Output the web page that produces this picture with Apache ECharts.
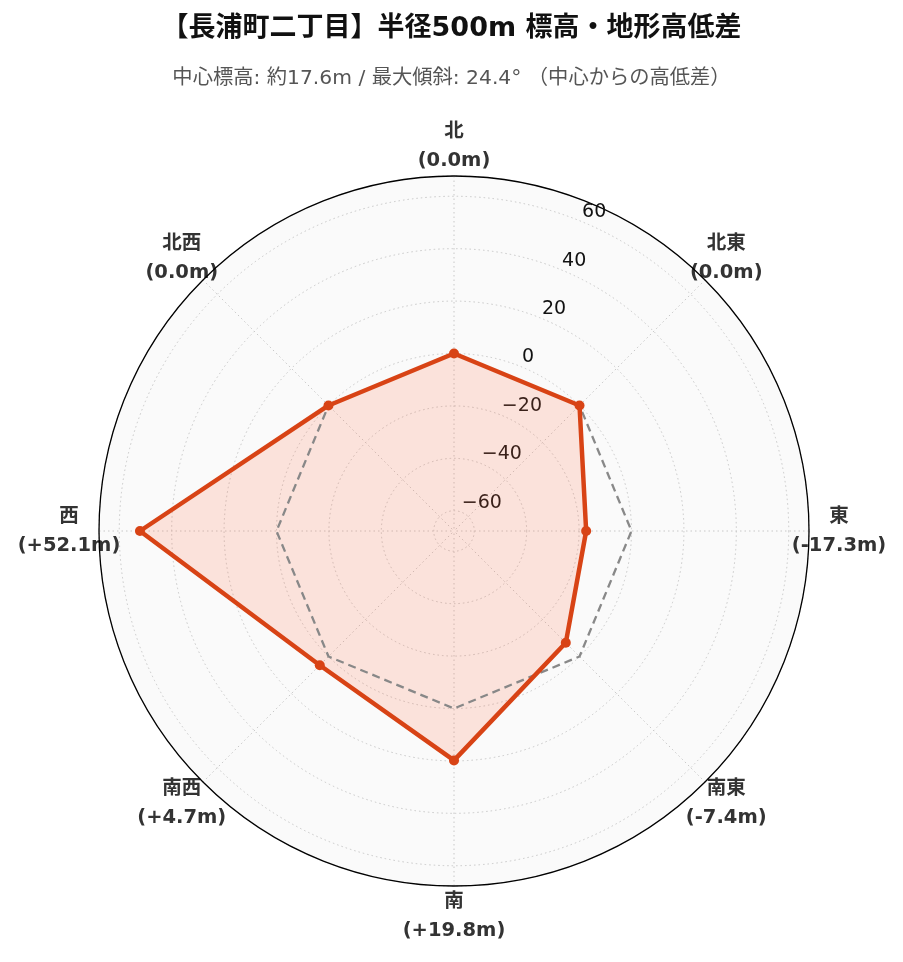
<!DOCTYPE html>
<html><head><meta charset="utf-8">
<script src="https://cdn.jsdelivr.net/npm/echarts@6/dist/echarts.min.js"></script>
<style>html,body{margin:0;padding:0;background:#fff}#c{width:903px;height:962px}</style>
</head><body><div id="c"></div>
<script>
const titleText = '【長浦町二丁目】半径500m 標高・地形高低差';
const subtitleText = '中心標高: 約17.6m / 最大傾斜: 24.4° （中心からの高低差）';
const directions = ['北', '北東', '東', '南東', '南', '南西', '西', '北西'];
const elevationDiff = [0.0, 0.0, -17.3, -7.4, 19.8, 4.7, 52.1, 0.0];
const zeroRef = [0, 0, 0, 0, 0, 0, 0, 0];
const radialTicks = [-60, -40, -20, 0, 20, 40, 60];
const radialMin = -67.73;
const radialMax = 67.73;

const LATIN = '"DejaVu Sans", "Noto Sans CJK JP", sans-serif';
const CENTER = [454, 531];
const RADIUS = 355;

// radar indicators run counter-clockwise from north; reorder clockwise data for it
const ccwOrder = [0, 7, 6, 5, 4, 3, 2, 1];
const toRadar = arr => ccwOrder.map(i => arr[i]);

function dirLabel(val) {
  const i = directions.indexOf(val);
  const d = elevationDiff[i];
  const s = d > 0 ? '+' + d.toFixed(1) : d.toFixed(1);
  return '{n|' + val + '}\n{v|(' + s + 'm)}';
}
function radialLabel(v) {
  const r = Math.round(v);
  if (Math.abs(v - r) > 1e-6 || radialTicks.indexOf(r) < 0) return '';
  return r < 0 ? '\u2212' + (-r) : String(r);
}
const dirText = {fontFamily: LATIN, fontWeight: 'bold', fontSize: 19.5, color: '#333', lineHeight: 29, align: 'center'};
const gridLine = {color: '#c8c8c8', type: [1.5, 3], width: 1};

const chart = echarts.init(document.getElementById('c'), null, {renderer: 'canvas'});
chart.setOption({
  animation: false,
  backgroundColor: '#ffffff',
  title: [
    {text: titleText, left: 'center', top: 10,
     textStyle: {fontFamily: LATIN, fontWeight: 'bold', fontSize: 27, color: '#111'}},
    {text: subtitleText, left: 'center', top: 64,
     textStyle: {fontFamily: LATIN, fontWeight: 'normal', fontSize: 20.3, color: '#555'}}
  ],
  polar: [
    {center: CENTER, radius: RADIUS},
    {center: CENTER, radius: RADIUS}
  ],
  angleAxis: [
    {polarIndex: 0, type: 'category', data: directions, boundaryGap: false,
     startAngle: 90, clockwise: true,
     axisLine: {show: false},
     axisTick: {show: false},
     splitLine: {show: true, lineStyle: gridLine},
     axisLabel: {show: true, margin: 30, width: 0, height: 0, padding: [-29, 0, 29, 0],
       formatter: dirLabel, rich: {n: dirText, v: dirText}}
    },
    {polarIndex: 1, type: 'value', min: 0, max: 360, startAngle: 67.5, show: true,
     axisLine: {show: true, lineStyle: {color: '#000', width: 1.3}},
     axisTick: {show: false}, axisLabel: {show: false}, splitLine: {show: false}}
  ],
  radiusAxis: [
    {polarIndex: 0, type: 'value', min: radialMin, max: radialMax, z: -1,
     axisLine: {show: false}, axisTick: {show: false}, axisLabel: {show: false},
     splitLine: {show: false},
     splitArea: {show: true, areaStyle: {color: ['#fafafa']}}},
    {polarIndex: 1, type: 'value', min: radialMin, max: radialMax,
     splitNumber: 7, minInterval: 20, maxInterval: 20,
     axisLine: {show: false}, axisTick: {show: false},
     splitLine: {show: true, showMaxLine: false, lineStyle: gridLine},
     axisLabel: {show: true, margin: 0, align: 'left', verticalAlign: 'bottom',
       fontFamily: LATIN, fontSize: 19, color: '#111', formatter: radialLabel}}
  ],
  radar: {
    center: CENTER, radius: RADIUS, startAngle: 90, shape: 'circle', splitNumber: 7,
    indicator: toRadar(directions).map(name => ({name: name, min: radialMin, max: radialMax})),
    axisName: {show: false},
    axisLine: {show: false}, splitLine: {show: false}, splitArea: {show: false}, axisTick: {show: false}
  },
  series: [
    {type: 'radar', z: 2, silent: true,
     data: [{value: toRadar(elevationDiff), symbol: 'none',
       lineStyle: {width: 0, opacity: 0},
       areaStyle: {color: 'rgba(255,105,65,0.24)'}}]},
    {type: 'radar', z: 3, silent: true,
     data: [{value: toRadar(zeroRef), symbol: 'none',
       lineStyle: {color: '#888888', width: 2.3, type: [8, 5]}}]},
    {type: 'radar', z: 4, silent: true,
     data: [{value: toRadar(elevationDiff), symbol: 'circle', symbolSize: 10,
       itemStyle: {color: '#D84315'},
       lineStyle: {color: '#D84315', width: 4.5}}]}
  ]
});
</script></body></html>
